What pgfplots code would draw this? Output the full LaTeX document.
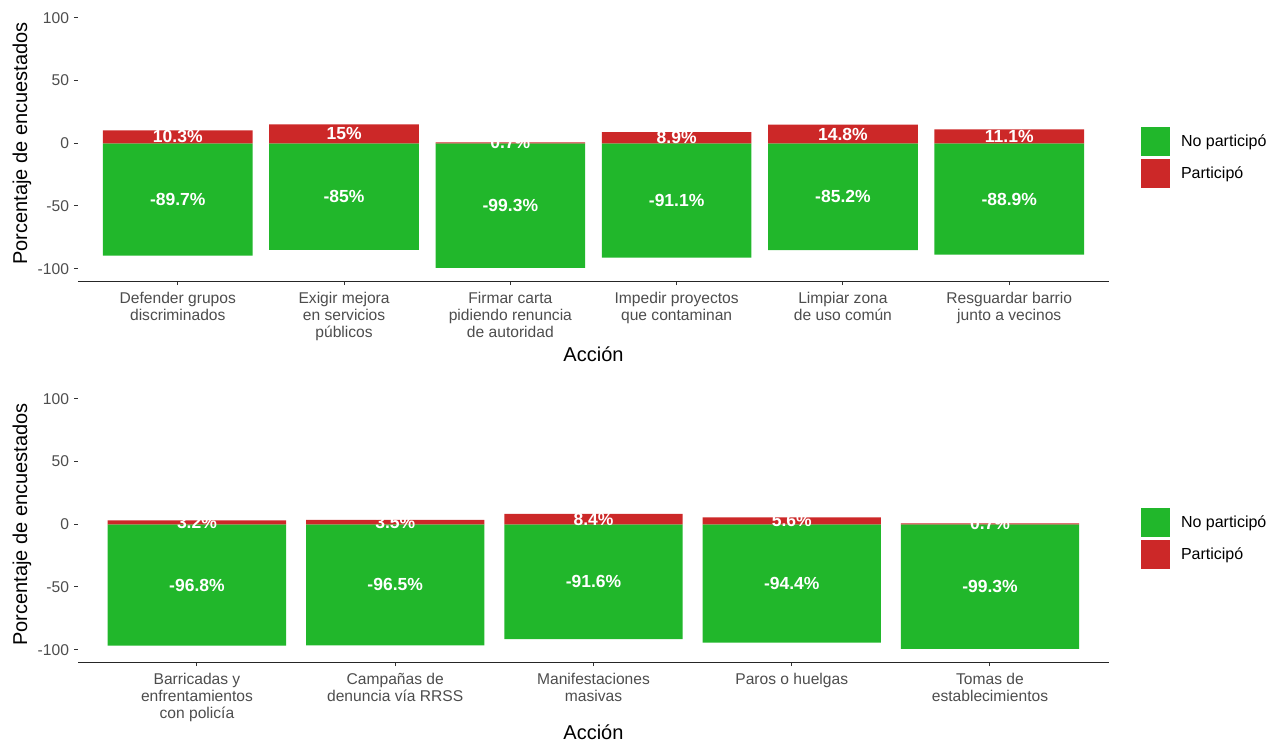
\documentclass[border=0pt]{standalone}
\usepackage{pgfplots}
\pgfplotsset{compat=1.18}
\usepackage{pgfplotstable}
\usepackage{fontspec}
\setmainfont{Liberation Sans}
\definecolor{cgreen}{RGB}{33,183,43}
\definecolor{cred}{RGB}{204,40,40}
\definecolor{tickgray}{RGB}{77,77,77}
\definecolor{tickmark}{RGB}{51,51,51}

\pgfplotstableread{
x g r
1 -89.7 10.3
2 -85 15
3 -99.3 0.7
4 -91.1 8.9
5 -85.2 14.8
6 -88.9 11.1
}\toptab
\pgfplotstableread{
x g r
1 -96.8 3.2
2 -96.5 3.5
3 -91.6 8.4
4 -94.4 5.6
5 -99.3 0.7
}\bottab

\pgfplotsset{
  panel/.style={
    scale only axis, width=1031pt, height=275.8pt,
    ymin=-110, ymax=110,
    ytick={-100,-50,0,50,100}, yticklabels={-100,-50,0,50,100},
    axis x line*=bottom, axis y line*=left,
    y axis line style={draw=none},
    x axis line style={line width=1.2pt, color=black!85},
    tick align=outside, major tick length=4pt,
    tick style={tickmark, line width=1pt},
    ticklabel style={font=\fontsize{15.6}{17.3}\selectfont, text=tickgray},
    xticklabel style={align=center, yshift=-3pt},
    yticklabel style={xshift=-1.5pt},
    xlabel={Acción}, ylabel={Porcentaje de encuestados},
    label style={font=\fontsize{20}{24}\selectfont},
    ylabel style={at={(axis description cs:-0.0543,0.5)}, anchor=center},
    legend style={at={(1.0311,0.5602)}, anchor=north west, draw=none, fill=none,
      inner sep=0pt, outer sep=0pt, row sep=3.3pt, column sep=0pt,
      font=\fontsize{16}{19}\selectfont,
      nodes={inner sep=0pt, outer sep=0pt}},
    legend cell align=left,
    clip=false,
  },
  sq/.style={legend image code/.code={\fill[##1] (0pt,-14.5pt) rectangle (29pt,14.5pt); \path (40pt,0pt);}},
  lab/.style={draw=none, nodes near coords={\pgfplotspointmeta\%}, point meta=explicit symbolic,
    every node near coord/.append style={anchor=center, font=\bfseries\fontsize{17.5}{20}\selectfont, text=white}},
}

\begin{document}
\begin{tikzpicture}
\path[use as bounding box] (0pt,0pt) rectangle (1276pt,744pt);
\begin{axis}[panel, at={(78pt,462.8pt)}, anchor=south west,
  xlabel style={at={(axis description cs:0.5,-0.2919)}, anchor=base},
  xmin=0.4, xmax=6.6, xtick={1,2,3,4,5,6},
  xticklabels={{Defender grupos\\discriminados},{Exigir mejora\\en servicios\\públicos},{Firmar carta\\pidiendo renuncia\\de autoridad},{Impedir proyectos\\que contaminan},{Limpiar zona\\de uso común},{Resguardar barrio\\junto a vecinos}}]
\addplot[ybar, bar width=0.9, bar shift=0pt, fill=cgreen, draw=none, sq] table[x=x,y=g]{\toptab};
\addlegendentry{No participó}
\addplot[ybar, bar width=0.9, bar shift=0pt, fill=cred, draw=none, sq] table[x=x,y=r]{\toptab};
\addlegendentry{Participó}
\addplot[forget plot, lab] table[x=x, y expr=\thisrow{g}/2, meta=g]{\toptab};
\addplot[forget plot, lab] table[x=x, y expr=\thisrow{r}/2, meta=r]{\toptab};
\end{axis}
\begin{axis}[panel, at={(78pt,81.8pt)}, anchor=south west,
  xlabel style={at={(axis description cs:0.5,-0.2803)}, anchor=base},
  xmin=0.4, xmax=5.6, xtick={1,2,3,4,5},
  xticklabels={{Barricadas y\\enfrentamientos\\con policía},{Campañas de\\denuncia vía RRSS},{Manifestaciones\\masivas},{Paros o huelgas},{Tomas de\\establecimientos}}]
\addplot[ybar, bar width=0.9, bar shift=0pt, fill=cgreen, draw=none, sq] table[x=x,y=g]{\bottab};
\addlegendentry{No participó}
\addplot[ybar, bar width=0.9, bar shift=0pt, fill=cred, draw=none, sq] table[x=x,y=r]{\bottab};
\addlegendentry{Participó}
\addplot[forget plot, lab] table[x=x, y expr=\thisrow{g}/2, meta=g]{\bottab};
\addplot[forget plot, lab] table[x=x, y expr=\thisrow{r}/2, meta=r]{\bottab};
\end{axis}
\end{tikzpicture}
\end{document}
